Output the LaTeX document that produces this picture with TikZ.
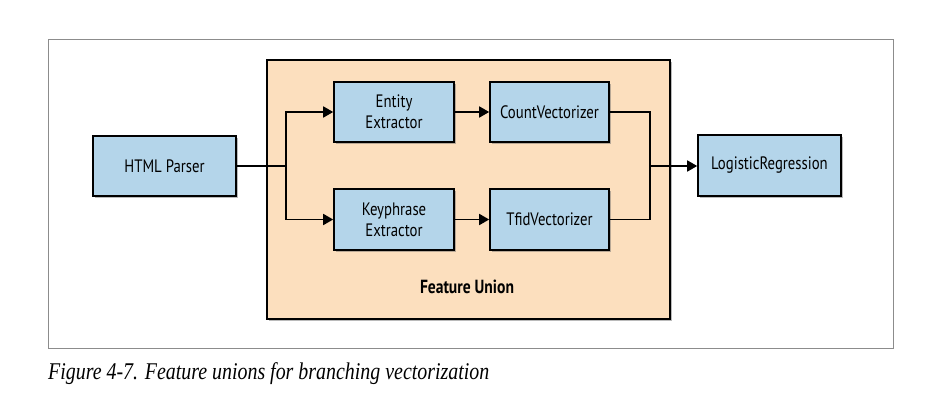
\documentclass[tikz,border=0pt]{standalone}
\usepackage{fontspec}
\setsansfont{PT Sans}[FakeStretch=0.82]
\setmainfont{Liberation Serif}
\newfontfamily\capfont{Liberation Serif}[FakeStretch=0.83]
\usetikzlibrary{arrows.meta,shadows,positioning}
\definecolor{boxblue}{HTML}{B4D5EA}
\definecolor{peach}{HTML}{FCDFBE}
\definecolor{framegray}{HTML}{8C8C8C}
\tikzset{
  stage/.style={draw=black, line width=1.6pt, fill=boxblue, minimum width=#1, minimum height=60pt,
    inner sep=0pt, align=center, font=\sffamily\fontsize{18}{21}\selectfont,
    drop shadow={shadow xshift=2pt, shadow yshift=-2pt, opacity=0.45, fill=black!60}},
  stage/.default=120pt,
  union/.style={draw=black, line width=1.6pt, fill=peach, inner sep=0pt,
    drop shadow={shadow xshift=2pt, shadow yshift=-2pt, opacity=0.45, fill=black!60}},
  conn/.style={line width=1.6pt, draw=black},
  arr/.style={conn, -{Triangle[length=10pt,width=11pt]}},
}
\begin{document}
\begin{tikzpicture}[x=1pt,y=-1pt]
\useasboundingbox (0,0) rectangle (944,406);
\node[draw=framegray, line width=1.2pt, minimum width=845pt, minimum height=309pt, inner sep=0pt, anchor=north west] (frame) at (48,39) {};
\node[union, minimum width=403pt, minimum height=259pt, anchor=north west] (fu) at (266,59) {};
\node[font=\sffamily\bfseries\fontsize{19}{20}\selectfont] (fulabel) at (467,287) {Feature Union};
\node[stage=143pt] (html) at (164.5,166) {HTML Parser};
\node[stage=120pt] (ent) at (394,112) {Entity\\Extractor};
\node[stage=120pt, minimum height=61pt] (key) at (394,219.5) {Keyphrase\\Extractor};
\node[stage=119pt] (cnt) at (549.5,112) {CountVectorizer};
\node[stage=119pt, minimum height=61pt] (tfid) at (549.5,219.5) {TfidVectorizer};
\node[stage=143pt, minimum height=61pt] (lr) at (769.5,165.5) {LogisticRegression};
\coordinate (split) at (286,166);
\coordinate (merge) at (650,166);
\draw[conn] (html.east) -- (split);
\draw[arr] (split) |- (ent.west);
\draw[arr] (split) |- (key.west);
\draw[arr] (ent.east) -- (cnt.west);
\draw[arr] (key.east) -- (tfid.west);
\draw[conn] (cnt.east) -| (merge);
\draw[conn] (tfid.east) -| (merge);
\draw[arr] (merge) -- (lr.west |- merge);
\node[anchor=base west, inner sep=0pt, font=\capfont\itshape\fontsize{24}{27}\selectfont] (cap) at (48,379) {Figure 4-7. Feature unions for branching vectorization};
\end{tikzpicture}
\end{document}
